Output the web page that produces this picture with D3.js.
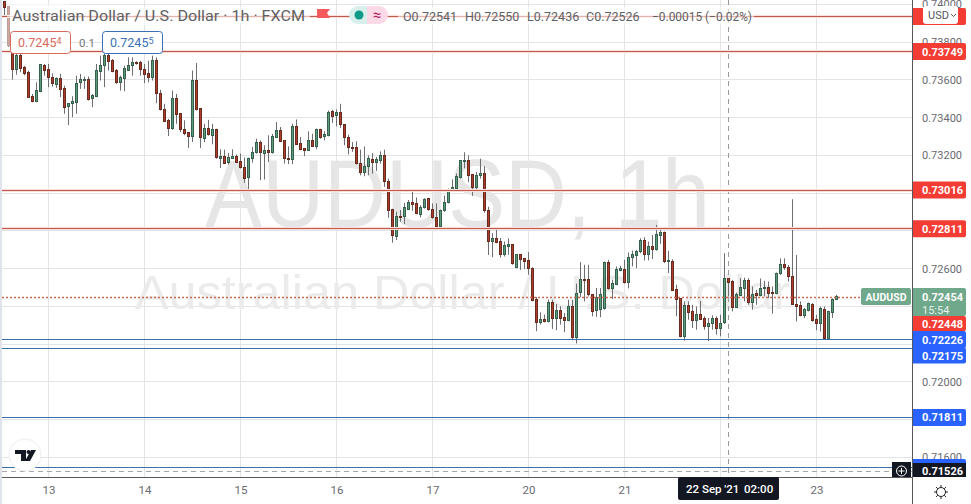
<!DOCTYPE html>
<html>
<head>
<meta charset="utf-8">
<title>AUDUSD 1h</title>
<script src="https://d3js.org/d3.v7.min.js"></script>
<style>
  html, body { margin: 0; padding: 0; background: #fff; }
  svg { display: block; font-family: Roboto, "Liberation Sans", sans-serif; }
</style>
</head>
<body>
<svg id="chart" width="971" height="504"></svg>
<script>
// all prices in 1e-5 of a dollar (pipettes)
const opens = [74013,73986,73780,73654,73728,73664,73638,73511,73485,73538,73678,73652,73610,73576,73605,73552,73455,73473,73481,73582,
  73598,73601,73499,73513,73645,73675,73728,73700,73649,73587,73608,73654,73677,73694,73692,73657,73631,73612,73701,73525,
  73443,73385,73342,73499,73420,73335,73320,73297,73596,73446,73291,73341,73307,73337,73186,73195,73160,73186,73196,73168,
  73137,73080,73182,73212,73269,73212,73225,73212,73297,73332,73279,73182,73177,73353,73262,73235,73226,73279,73249,73337,
  73297,73306,73432,73408,73425,73362,73293,73242,73240,73156,73107,73138,73177,73160,73175,73198,73063,72913,72774,72878,
  72875,72917,72952,72945,72889,72924,72970,72913,72871,72825,72908,72948,73019,73024,73082,73167,73174,73100,73033,73091,
  73103,72908,72743,72757,72741,72673,72717,72725,72606,72673,72651,72641,72602,72435,72315,72330,72321,72421,72337,72377,
  72340,72326,72400,72236,72470,72541,72541,72465,72377,72386,72386,72632,72493,72516,72590,72597,72527,72658,72669,72687,
  72746,72673,72715,72701,72775,72790,72634,72640,72487,72440,72241,72403,72371,72325,72355,72334,72294,72310,72334,72283,
  72310,72545,72530,72394,72457,72494,72535,72420,72466,72457,72494,72501,72471,72468,72573,72623,72607,72559,72412,72403,
  72350,72378,72412,72329,72310,72385,72230,72368,72438];
const closes = [73983,73780,73654,73728,73661,73634,73506,73485,73541,73680,73650,73608,73576,73606,73548,73453,73473,73485,73583,73599,
  73601,73496,73517,73649,73678,73728,73696,73643,73587,73612,73659,73678,73694,73689,73657,73629,73612,73701,73525,73439,
  73381,73342,73499,73416,73334,73316,73297,73596,73445,73291,73342,73307,73337,73188,73195,73160,73188,73195,73165,73135,
  73080,73182,73214,73267,73214,73226,73212,73297,73332,73276,73181,73177,73353,73260,73232,73226,73279,73249,73337,73297,
  73309,73429,73408,73425,73360,73291,73239,73239,73154,73107,73140,73181,73160,73177,73200,73059,72912,72774,72878,72875,
  72922,72952,72943,72890,72924,72968,72912,72868,72825,72910,72950,73019,73031,73089,73170,73174,73096,73033,73094,73103,
  72906,72743,72757,72736,72673,72720,72725,72625,72673,72646,72637,72599,72432,72315,72330,72319,72421,72337,72377,72337,
  72326,72400,72238,72470,72541,72537,72461,72377,72447,72465,72632,72493,72520,72593,72599,72527,72660,72673,72690,72746,
  72674,72717,72701,72778,72790,72634,72641,72484,72435,72239,72403,72368,72325,72355,72331,72294,72311,72334,72283,72311,
  72545,72526,72394,72461,72498,72535,72420,72464,72457,72496,72501,72468,72468,72575,72623,72605,72558,72410,72399,72352,
  72382,72413,72325,72310,72387,72230,72371,72438,72454];
const highs = [74018,73990,73790,73772,73750,73673,73649,73525,73587,73684,73684,73684,73634,73613,73631,73569,73476,73513,73622,73631,
  73617,73617,73525,73684,73728,73754,73754,73710,73657,73622,73675,73719,73719,73698,73701,73684,73701,73728,73719,73547,
  73473,73393,73543,73525,73423,73385,73323,73649,73689,73450,73367,73388,73367,73341,73232,73230,73212,73232,73205,73209,
  73188,73188,73244,73288,73279,73253,73306,73314,73376,73350,73279,73247,73367,73390,73297,73235,73327,73314,73341,73341,
  73328,73437,73441,73443,73473,73364,73309,73270,73274,73230,73247,73200,73212,73191,73221,73230,73077,72917,72901,72910,
  72948,72963,73021,72977,72936,72973,72973,72945,72945,72913,72987,73024,73072,73103,73174,73216,73200,73100,73112,73182,
  73142,72927,72787,72819,72762,72743,72760,72725,72673,72673,72655,72687,72607,72449,72368,72356,72435,72435,72412,72400,
  72365,72435,72435,72520,72634,72620,72620,72465,72497,72497,72637,72646,72541,72611,72614,72646,72685,72695,72699,72760,
  72766,72743,72778,72831,72804,72796,72694,72649,72514,72443,72426,72426,72408,72399,72429,72347,72338,72352,72347,72355,
  72681,72549,72540,72473,72549,72552,72549,72505,72487,72547,72535,72531,72505,72579,72654,72654,72619,72967,72672,72426,
  72391,72420,72417,72355,72399,72399,72376,72442,72461];
const lows = [73930,73775,73601,73627,73640,73624,73506,73481,73481,73534,73622,73561,73564,73557,73508,73420,73360,73402,73420,73552,
  73552,73490,73455,73508,73596,73561,73649,73640,73578,73543,73539,73649,73622,73680,73622,73582,73587,73596,73476,73437,
  73376,73302,73335,73367,73323,73306,73239,73270,73437,73239,73270,73304,73258,73182,73133,73156,73151,73182,73160,73130,
  73054,73015,73161,73209,73068,73072,73165,73209,73293,73270,73156,73153,73153,73258,73226,73196,73223,73244,73232,73288,
  73279,73300,73371,73353,73344,73253,73205,73218,73151,73094,73089,73094,73103,73117,73156,73033,72869,72737,72751,72848,
  72836,72910,72906,72887,72871,72917,72906,72864,72818,72815,72901,72945,73015,73008,73077,73131,73058,72985,73015,73077,
  72896,72672,72660,72734,72658,72664,72673,72620,72602,72593,72597,72567,72426,72268,72303,72315,72315,72280,72273,72303,
  72263,72321,72220,72203,72449,72426,72453,72347,72344,72342,72382,72488,72439,72512,72586,72520,72495,72611,72602,72681,
  72643,72643,72650,72695,72731,72629,72576,72480,72347,72236,72218,72329,72285,72276,72329,72276,72215,72276,72250,72241,
  72306,72452,72373,72391,72454,72426,72408,72382,72408,72452,72452,72443,72361,72464,72566,72593,72531,72408,72320,72347,
  72338,72373,72318,72273,72267,72229,72229,72338,72435];

const priceTicks = [74000,73800,73600,73400,73200,72600,72000,71600];
const gridPrices = [74000,73800,73600,73400,73200,73000,72800,72600,72400,72200,72000,71800,71600];
const gridBars = [11,35,59,83,107,131,155,179,203];
// the 22 label sits under the crosshair date tag in the picture
const dayBars = [11,35,59,83,107,131,155,203];
const dayLabels = ["13","14","15","16","17","20","21","23"];

const redLevels = [73934,73749,73016,72811];
const blueLevels = [72226,72175,71811,71547];
const lastBid = 72448;
const crossBar = 181;
const crossPrice = 71526;

const fmt = d => (d / 1e5).toFixed(5);

const width = 971, height = 504;
const plotLeft = 2, plotRight = 912, plotBottom = 477;

const x = d3.scaleLinear().domain([0, 208]).range([4.5, 836.5]);
const y = d3.scaleLinear().domain([71600, 74000]).range([457.3, 4.3]);
const snap = v => Math.round(v - 0.5) + 0.5;

const svg = d3.select("#chart");
svg.append("rect").attr("width", width).attr("height", height).attr("fill", "#fff");
svg.append("rect").attr("width", 2).attr("height", height).attr("fill", "#e0e3eb");

svg.append("clipPath").attr("id", "plot").append("rect")
  .attr("x", plotLeft).attr("y", 0).attr("width", plotRight - plotLeft).attr("height", plotBottom);
const plot = svg.append("g").attr("clip-path", "url(#plot)");

// grid
plot.append("g").selectAll("line").data(gridPrices).join("line")
  .attr("x1", plotLeft).attr("x2", plotRight)
  .attr("y1", d => snap(y(d))).attr("y2", d => snap(y(d)))
  .attr("stroke", "#e3e4e8");
plot.append("g").selectAll("line").data(gridBars).join("line")
  .attr("x1", d => x(d)).attr("x2", d => x(d))
  .attr("y1", 0).attr("y2", plotBottom)
  .attr("stroke", "#e3e4e8");

// watermark
plot.append("text").text("AUDUSD, 1h")
  .attr("x", 205).attr("y", 227)
  .attr("textLength", 505).attr("lengthAdjust", "spacingAndGlyphs")
  .attr("font-family", "Liberation Sans").attr("font-size", 96)
  .attr("fill", "#e6e6e7");
plot.append("text").text("Australian Dollar / U.S. Dollar")
  .attr("x", 135).attr("y", 309)
  .attr("textLength", 655).attr("lengthAdjust", "spacingAndGlyphs")
  .attr("font-family", "Liberation Sans").attr("font-size", 48)
  .attr("fill", "#ebebec");

// crosshair
plot.append("line")
  .attr("x1", x(crossBar)).attr("x2", x(crossBar)).attr("y1", 0).attr("y2", plotBottom)
  .attr("stroke", "#9a9a9e").attr("stroke-dasharray", "5,4");
plot.append("line")
  .attr("x1", plotLeft).attr("x2", plotRight).attr("y1", snap(y(crossPrice))).attr("y2", snap(y(crossPrice)))
  .attr("stroke", "#a8a8ac").attr("stroke-dasharray", "5,4");

// candles
const bars = opens.map((o, i) => ({ i: i, o: o, c: closes[i], h: highs[i], l: lows[i] }));
const candle = plot.append("g").selectAll("g").data(bars).join("g");
candle.append("line")
  .attr("x1", d => x(d.i)).attr("x2", d => x(d.i))
  .attr("y1", d => y(d.h)).attr("y2", d => y(d.l))
  .attr("stroke", "#6e6e70");
candle.append("rect")
  .attr("x", d => x(d.i) - 1)
  .attr("width", 2)
  .attr("y", d => snap(y(Math.max(d.o, d.c))))
  .attr("height", d => Math.max(1, Math.round(Math.abs(y(d.o) - y(d.c)))))
  .attr("fill", d => d.c >= d.o ? "#5b9a7b" : "#ad3d2a")
  .attr("stroke", d => d.c >= d.o ? "#34604c" : "#662c20");

// levels
plot.append("g").selectAll("line").data(redLevels).join("line")
  .attr("x1", plotLeft).attr("x2", plotRight)
  .attr("y1", d => snap(y(d))).attr("y2", d => snap(y(d)))
  .attr("stroke", "#f9dedb").attr("stroke-width", 3);
plot.append("g").selectAll("line").data(redLevels).join("line")
  .attr("x1", plotLeft).attr("x2", plotRight)
  .attr("y1", d => snap(y(d))).attr("y2", d => snap(y(d)))
  .attr("stroke", "#c05a4c");
plot.append("g").selectAll("line").data(blueLevels).join("line")
  .attr("x1", plotLeft).attr("x2", plotRight)
  .attr("y1", d => snap(y(d))).attr("y2", d => snap(y(d)))
  .attr("stroke", "#3a6fae");
plot.append("line")
  .attr("x1", plotLeft).attr("x2", 861)
  .attr("y1", snap(y(lastBid))).attr("y2", snap(y(lastBid)))
  .attr("stroke", "#cf6a4f").attr("stroke-width", 1.5).attr("stroke-dasharray", "2,2");

// axes
const yAxis = svg.append("g").attr("transform", "translate(" + plotRight + ",0)")
  .call(d3.axisRight(y).tickValues(priceTicks).tickFormat(fmt).tickSize(0).tickPadding(10));
yAxis.select(".domain").remove();
yAxis.selectAll("text").attr("fill", "#6a6a70").attr("font-size", 11).attr("font-family", "Roboto");

const xAxis = svg.append("g").attr("transform", "translate(0," + plotBottom + ")")
  .call(d3.axisBottom(x).tickValues(dayBars).tickFormat((d, i) => dayLabels[i]).tickSize(0).tickPadding(9));
xAxis.select(".domain").remove();
xAxis.selectAll("text").attr("fill", "#6a6a70").attr("font-size", 11.5).attr("font-family", "Roboto");

svg.append("line").attr("x1", plotLeft).attr("x2", plotRight).attr("y1", plotBottom + 0.5).attr("y2", plotBottom + 0.5).attr("stroke", "#58585c");
svg.append("line").attr("x1", plotRight + 0.5).attr("x2", plotRight + 0.5).attr("y1", 0).attr("y2", height).attr("stroke", "#58585c");

// price tags on the axis
function tag(midY, h, fill, label) {
  svg.append("path")
    .attr("d", "M913," + (midY - h / 2) + "H964a2,2 0 0 1 2,2V" + (midY + h / 2 - 2) + "a2,2 0 0 1 -2,2H913Z")
    .attr("fill", fill);
  if (label) svg.append("text").text(label)
    .attr("x", 922).attr("y", midY + 4)
    .attr("fill", "#fff").attr("font-size", 11).attr("font-weight", 700);
}
tag(16.5, 17, "#f23c34");
tag(51.5, 17, "#f23c34", fmt(redLevels[1]));
tag(y(redLevels[2]), 17, "#f23c34", fmt(redLevels[2]));
tag(y(redLevels[3]), 17, "#f23c34", fmt(redLevels[3]));
tag(302, 28, "#6fa88a");
svg.append("text").text("0.72454").attr("x", 922).attr("y", 301).attr("fill", "#fff").attr("font-size", 11).attr("font-weight", 700);
svg.append("text").text("15:54").attr("x", 922).attr("y", 314).attr("fill", "#e4f0e9").attr("font-size", 11);
tag(323.5, 15, "#f23c34", fmt(lastBid));
tag(339.5, 17, "#2962ff", fmt(blueLevels[0]));
tag(355.5, 16, "#2962ff", fmt(blueLevels[1]));
tag(y(blueLevels[2]), 17, "#2962ff", fmt(blueLevels[2]));
tag(467.5, 17, "#2962ff");
svg.append("rect").attr("x", 913).attr("y", 463).attr("width", 53).attr("height", 14).attr("fill", "#131722");
svg.append("text").text(fmt(crossPrice)).attr("x", 922).attr("y", 474.5).attr("fill", "#fff").attr("font-size", 11).attr("font-weight", 700);

// symbol tag at the end of the price line
svg.append("rect").attr("x", 861).attr("y", 288).attr("width", 50).attr("height", 17).attr("rx", 2).attr("fill", "#6fa88a");
svg.append("text").text("AUDUSD").attr("x", 886).attr("y", 300.5).attr("text-anchor", "middle")
  .attr("fill", "#fff").attr("font-size", 10.5).attr("font-weight", 700);

// USD button
svg.append("rect").attr("x", 923).attr("y", 6).attr("width", 35).attr("height", 18).attr("rx", 3).attr("fill", "#fff");
svg.append("text").text("USD").attr("x", 928).attr("y", 19).attr("fill", "#55555a").attr("font-size", 11);
svg.append("path").attr("d", "M951,14l2.5,2.5l2.5,-2.5").attr("fill", "none").attr("stroke", "#55555a");

// crosshair date tag + add button
svg.append("rect").attr("x", 678).attr("y", 477).attr("width", 101).attr("height", 23).attr("rx", 2).attr("fill", "#131722");
svg.append("text").text("22 Sep '21").attr("x", 686).attr("y", 493).attr("fill", "#fff").attr("font-size", 11.5).attr("font-weight", 500);
svg.append("text").text("02:00").attr("x", 744).attr("y", 493).attr("fill", "#fff").attr("font-size", 11.5).attr("font-weight", 500);
svg.append("rect").attr("x", 892).attr("y", 462).attr("width", 19).attr("height", 15).attr("fill", "#131722");
svg.append("circle").attr("cx", 901.5).attr("cy", 471).attr("r", 5).attr("fill", "none").attr("stroke", "#fff");
svg.append("path").attr("d", "M901.5,468v6M898.5,471h6").attr("stroke", "#fff");

// legend sits on a see-through white wash, lines and candles fade under it
[[7, 4, 63, 42], [10, 7, 300, 18], [398, 7, 356, 18]].forEach(r => {
  svg.append("rect").attr("x", r[0]).attr("y", r[1]).attr("width", r[2]).attr("height", r[3])
    .attr("fill", "#fff").attr("opacity", 0.55);
});
svg.append("text").text("Australian Dollar / U.S. Dollar · 1h · FXCM")
  .attr("x", 12).attr("y", 21)
  .attr("textLength", 293).attr("lengthAdjust", "spacingAndGlyphs")
  .attr("fill", "#5f5f64").attr("font-size", 14);
svg.append("path").attr("d", "M317,9h13l-3,4l3,5h-13Z").attr("fill", "#f4595c");
svg.append("path").attr("d", "M367,6h-9a9,9 0 0 0 0,18h9Z").attr("fill", "#d9efec");
svg.append("path").attr("d", "M367,6h12a9,9 0 0 1 0,18h-12Z").attr("fill", "#fbd9e6");
svg.append("circle").attr("cx", 359).attr("cy", 15).attr("r", 4.5).attr("fill", "#0d9a88");
svg.append("text").text("≈").attr("x", 377).attr("y", 20).attr("text-anchor", "middle").attr("fill", "#b0245e").attr("font-size", 15);

const ohlc = [["O","0.72541",403],["H","0.72550",465],["L","0.72436",527],["C","0.72526",586]];
ohlc.forEach(d => {
  svg.append("text").text(d[0] + d[1]).attr("x", d[2]).attr("y", 21)
    .attr("fill", "#5f5f64").attr("font-size", 12.5);
});
svg.append("text").text("−0.00015 (−0.02%)").attr("x", 652).attr("y", 21)
  .attr("textLength", 100).attr("lengthAdjust", "spacingAndGlyphs")
  .attr("fill", "#5f5f64").attr("font-size", 12.5);

// buy / sell boxes
function quote(bx, colour, main, small) {
  svg.append("rect").attr("x", bx + 0.5).attr("y", 31.5).attr("width", 60).attr("height", 22).attr("rx", 3)
    .attr("fill", "#fff").attr("stroke", colour);
  const t = svg.append("text").attr("x", bx + 8).attr("y", 47).attr("fill", colour).attr("font-size", 12.5);
  t.append("tspan").text(main);
  t.append("tspan").text(small).attr("font-size", 9).attr("dy", -3);
}
quote(10, "#d9695c", "0.7245", "4");
quote(102, "#3a6fb5", "0.7245", "5");
svg.append("text").text("0.1").attr("x", 79).attr("y", 47).attr("fill", "#777").attr("font-size", 11.5);

// TV logo
svg.append("circle").attr("cx", 25).attr("cy", 455).attr("r", 16).attr("fill", "#fff").attr("stroke", "#eceef2");
svg.append("path").attr("d", "M15,450h11v11h-5v-7h-6ZM31,450h5l-6,11h-5Z").attr("fill", "#131722");
svg.append("circle").attr("cx", 28.5).attr("cy", 452).attr("r", 2).attr("fill", "#131722");

// settings sun icon
const sun = svg.append("g").attr("transform", "translate(941,492)");
sun.append("circle").attr("r", 4.5).attr("fill", "none").attr("stroke", "#222");
sun.selectAll("line").data(d3.range(8)).join("line")
  .attr("x1", d => 4.5 * Math.cos(d * Math.PI / 4)).attr("y1", d => 4.5 * Math.sin(d * Math.PI / 4))
  .attr("x2", d => 7 * Math.cos(d * Math.PI / 4)).attr("y2", d => 7 * Math.sin(d * Math.PI / 4))
  .attr("stroke", "#222");
</script>
</body>
</html>
